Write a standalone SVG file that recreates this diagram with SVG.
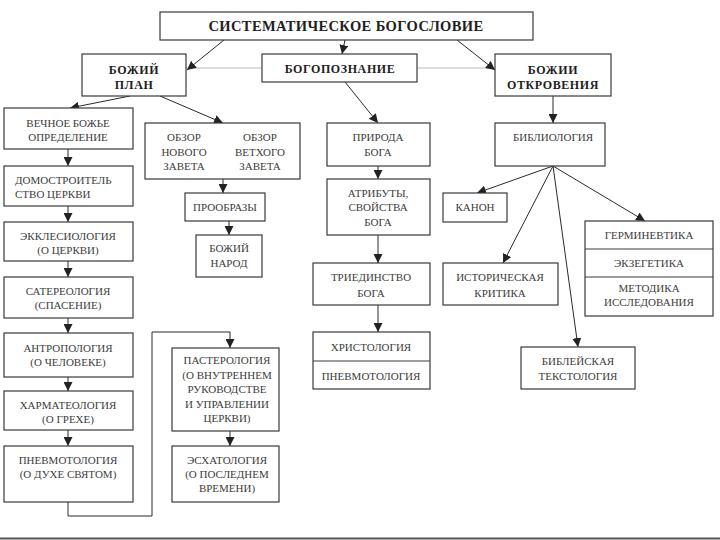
<svg xmlns="http://www.w3.org/2000/svg" width="720" height="540" viewBox="0 0 720 540">
<style>
rect.b{fill:#fff;stroke:#3a3a3a;stroke-width:1.2}
line.d{stroke:#3a3a3a;stroke-width:1}
text{font-family:"Liberation Serif","Times New Roman",serif;fill:#3c3c3c;font-size:11px;text-anchor:middle}
text.h{font-weight:bold;fill:#1e1e1e;font-size:12px;letter-spacing:0.6px}
text.t{font-weight:bold;fill:#1e1e1e;font-size:14.5px;letter-spacing:0.4px}
#connectors path,#connectors line,#connectors polyline{fill:none;stroke:#2a2a2a;stroke-width:1}
</style>
<defs>
<marker id="ah" markerUnits="userSpaceOnUse" markerWidth="9" markerHeight="9" refX="9" refY="4.5" orient="auto">
<path d="M0,0 L9,4.5 L0,9 z" fill="#222"/>
</marker>
</defs>
<rect width="720" height="540" fill="#fff"/>
<line x1="0" y1="538.5" x2="720" y2="538.5" stroke="#555" stroke-width="2"/>

<g id="faint">
<line x1="186" y1="68" x2="262" y2="68" stroke="#d0d0d0" stroke-width="1.5"/>
<line x1="417" y1="68" x2="495" y2="68" stroke="#d0d0d0" stroke-width="1.5"/>
</g>

<g id="connectors">
<line x1="224" y1="40" x2="187" y2="70" marker-end="url(#ah)"/>
<line x1="345" y1="40" x2="342" y2="54" marker-end="url(#ah)"/>
<line x1="457" y1="40" x2="495" y2="70" marker-end="url(#ah)"/>
<line x1="130" y1="96" x2="70" y2="108" marker-end="url(#ah)"/>
<line x1="160" y1="96" x2="223" y2="123" marker-end="url(#ah)"/>
<line x1="223" y1="123" x2="223" y2="193" marker-end="url(#ah)"/>
<line x1="229" y1="221" x2="229" y2="235" marker-end="url(#ah)"/>
<line x1="68" y1="149" x2="68" y2="166" marker-end="url(#ah)"/>
<line x1="68" y1="206" x2="68" y2="222" marker-end="url(#ah)"/>
<line x1="68" y1="261" x2="68" y2="277" marker-end="url(#ah)"/>
<line x1="68" y1="318" x2="68" y2="333" marker-end="url(#ah)"/>
<line x1="68" y1="377" x2="68" y2="391" marker-end="url(#ah)"/>
<line x1="68" y1="430" x2="68" y2="446" marker-end="url(#ah)"/>
<polyline points="68,502 68,516 152,516 152,332 230,332 230,348" marker-end="url(#ah)"/>
<line x1="230" y1="431" x2="230" y2="446" marker-end="url(#ah)"/>
<line x1="345" y1="82" x2="378" y2="123" marker-end="url(#ah)"/>
<line x1="378" y1="166" x2="378" y2="179" marker-end="url(#ah)"/>
<line x1="378" y1="235" x2="378" y2="263" marker-end="url(#ah)"/>
<line x1="378" y1="305" x2="378" y2="332" marker-end="url(#ah)"/>
<line x1="553" y1="96" x2="553" y2="123" marker-end="url(#ah)"/>
<line x1="553" y1="166" x2="477" y2="193" marker-end="url(#ah)"/>
<line x1="553" y1="166" x2="503" y2="263" marker-end="url(#ah)"/>
<line x1="553" y1="166" x2="578" y2="347" marker-end="url(#ah)"/>
<line x1="553" y1="166" x2="645" y2="221" marker-end="url(#ah)"/>
</g>

<g id="n-title"><rect class="b" x="160" y="12" width="373" height="28"/><text class="t" x="346" y="31">СИСТЕМАТИЧЕСКОЕ БОГОСЛОВИЕ</text></g>
<g id="n-plan"><rect class="b" x="82" y="54" width="104" height="42"/><text class="h" x="134" y="74">БОЖИЙ</text><text class="h" x="134" y="89">ПЛАН</text></g>
<g id="n-bogopozn"><rect class="b" x="262" y="54" width="155" height="28"/><text class="h" x="340" y="73">БОГОПОЗНАНИЕ</text></g>
<g id="n-otkr"><rect class="b" x="495" y="54" width="116" height="42"/><text class="h" x="553" y="74">БОЖИИ</text><text class="h" x="553" y="89">ОТКРОВЕНИЯ</text></g>

<g id="n-vechnoe"><rect class="b" x="4" y="108" width="129" height="41"/><text x="68" y="127">ВЕЧНОЕ БОЖЬЕ</text><text x="68" y="141">ОПРЕДЕЛЕНИЕ</text></g>
<g id="n-domostr"><rect class="b" x="4" y="166" width="129" height="40"/><text x="15" y="184" style="text-anchor:start">ДОМОСТРОИТЕЛЬ</text><text x="15" y="198" style="text-anchor:start">СТВО ЦЕРКВИ</text></g>
<g id="n-ekkl"><rect class="b" x="4" y="222" width="129" height="39"/><text x="68" y="240">ЭККЛЕСИОЛОГИЯ</text><text x="68" y="254">(О ЦЕРКВИ)</text></g>
<g id="n-soter"><rect class="b" x="4" y="277" width="129" height="41"/><text x="68" y="295">САТЕРЕОЛОГИЯ</text><text x="68" y="309">(СПАСЕНИЕ)</text></g>
<g id="n-antrop"><rect class="b" x="4" y="333" width="129" height="44"/><text x="68" y="352">АНТРОПОЛОГИЯ</text><text x="68" y="366">(О ЧЕЛОВЕКЕ)</text></g>
<g id="n-harm"><rect class="b" x="4" y="391" width="129" height="39"/><text x="68" y="409">ХАРМАТЕОЛОГИЯ</text><text x="68" y="423">(О ГРЕХЕ)</text></g>
<g id="n-pnevm"><rect class="b" x="4" y="446" width="129" height="56"/><text x="68" y="464">ПНЕВМОТОЛОГИЯ</text><text x="68" y="478">(О ДУХЕ СВЯТОМ)</text></g>

<g id="n-obzor"><rect class="b" x="145" y="123" width="155" height="56"/><text x="184" y="141">ОБЗОР</text><text x="184" y="156">НОВОГО</text><text x="184" y="170">ЗАВЕТА</text><text x="260" y="141">ОБЗОР</text><text x="260" y="156">ВЕТХОГО</text><text x="260" y="170">ЗАВЕТА</text></g>
<g id="n-proobr"><rect class="b" x="185" y="193" width="80" height="28"/><text x="225" y="211">ПРООБРАЗЫ</text></g>
<g id="n-narod"><rect class="b" x="196" y="235" width="66" height="42"/><text x="229" y="252">БОЖИЙ</text><text x="229" y="267">НАРОД</text></g>
<g id="n-paster"><rect class="b" x="172" y="348" width="107" height="83"/><text x="227" y="364">ПАСТЕРОЛОГИЯ</text><text x="227" y="379">(О ВНУТРЕННЕМ</text><text x="227" y="393">РУКОВОДСТВЕ</text><text x="227" y="408">И УПРАВЛЕНИИ</text><text x="227" y="422">ЦЕРКВИ)</text></g>
<g id="n-eshat"><rect class="b" x="172" y="446" width="107" height="56"/><text x="227" y="464">ЭСХАТОЛОГИЯ</text><text x="227" y="478">(О ПОСЛЕДНЕМ</text><text x="227" y="492">ВРЕМЕНИ)</text></g>

<g id="n-priroda"><rect class="b" x="327" y="123" width="103" height="43"/><text x="378" y="141">ПРИРОДА</text><text x="378" y="156">БОГА</text></g>
<g id="n-atr"><rect class="b" x="327" y="179" width="103" height="56"/><text x="378" y="197">АТРИБУТЫ,</text><text x="378" y="211">СВОЙСТВА</text><text x="378" y="226">БОГА</text></g>
<g id="n-tried"><rect class="b" x="313" y="263" width="117" height="42"/><text x="371" y="281">ТРИЕДИНСТВО</text><text x="371" y="297">БОГА</text></g>
<g id="n-hrist"><rect class="b" x="313" y="332" width="117" height="57"/><line class="d" x1="313" y1="361" x2="430" y2="361"/><text x="371" y="351">ХРИСТОЛОГИЯ</text><text x="371" y="380">ПНЕВМОТОЛОГИЯ</text></g>

<g id="n-bibl"><rect class="b" x="495" y="123" width="110" height="43"/><text x="553" y="141">БИБЛИОЛОГИЯ</text></g>
<g id="n-kanon"><rect class="b" x="443" y="193" width="64" height="29"/><text x="475" y="211">КАНОН</text></g>
<g id="n-istor"><rect class="b" x="443" y="263" width="115" height="42"/><text x="500" y="281">ИСТОРИЧЕСКАЯ</text><text x="500" y="297">КРИТИКА</text></g>
<g id="n-tekst"><rect class="b" x="521" y="347" width="114" height="42"/><text x="578" y="365">БИБЛЕЙСКАЯ</text><text x="578" y="380">ТЕКСТОЛОГИЯ</text></g>
<g id="n-germ"><rect class="b" x="585" y="221" width="128" height="95"/><line class="d" x1="585" y1="249" x2="713" y2="249"/><line class="d" x1="585" y1="277" x2="713" y2="277"/><text x="649" y="239">ГЕРМИНЕВТИКА</text><text x="649" y="267">ЭКЗЕГЕТИКА</text><text x="649" y="292">МЕТОДИКА</text><text x="649" y="306">ИССЛЕДОВАНИЯ</text></g>
</svg>
